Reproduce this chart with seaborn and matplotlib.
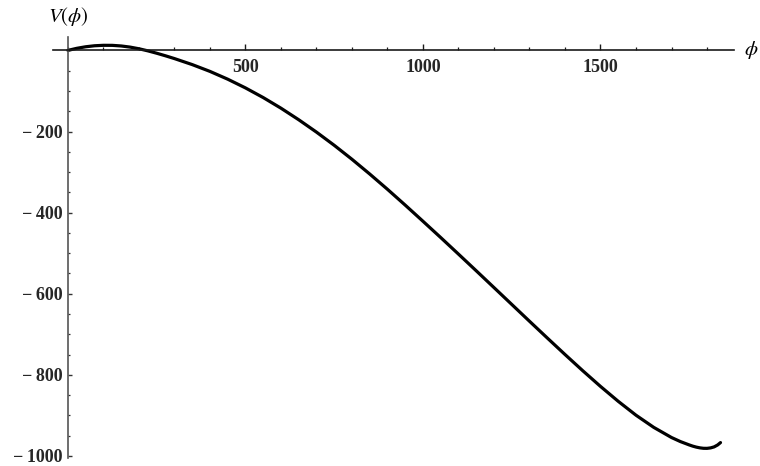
import matplotlib
matplotlib.use("Agg")
import matplotlib.pyplot as plt
from matplotlib.ticker import MultipleLocator, FixedLocator
import seaborn as sns
import pandas as pd

# Potential V(phi) sampled along the field range
phi = [0, 25, 50, 75, 100, 125, 150, 175, 200, 225, 250, 275, 300, 350, 400,
       450, 500, 550, 600, 650, 700, 750, 800, 850, 900, 950, 1000, 1050,
       1100, 1150, 1200, 1250, 1300, 1350, 1400, 1450, 1500, 1550, 1600, 1650,
       1700, 1725, 1750, 1760, 1770, 1780, 1790, 1800, 1810, 1820, 1830, 1838]
V = [0, 5.1, 8.9, 11.4, 12.5, 12.4, 10.9, 8.1, 4.0, -1.1, -7.0, -13.4, -20.2,
     -35.0, -51.8, -71.0, -92.5, -116.3, -142.5, -171.0, -201.5, -234.0,
     -268.5, -304.8, -342.5, -381.5, -421.3, -461.5, -502.3, -543.4, -584.8,
     -626.3, -667.8, -709.0, -749.8, -789.8, -828.5, -865.3, -899.5, -929.5,
     -954.5, -964.5, -972.8, -975.8, -978.2, -980.0, -981.1, -981.2, -980.1,
     -977.6, -972.8, -967.0]

x_major = [500, 1000, 1500]
y_major = [-1000, -800, -600, -400, -200]

df = pd.DataFrame({"phi": phi, "V": V})

sns.set_style("white")
plt.rcParams["font.family"] = ["Liberation Serif", "DejaVu Serif"]
plt.rcParams["mathtext.fontset"] = "stix"

fig = plt.figure(figsize=(7.6, 4.66), dpi=100)
ax = fig.add_axes([53 / 760, 8 / 466, (734 - 53) / 760, (458 - 37) / 466])

sns.lineplot(data=df, x="phi", y="V", ax=ax, color="black", linewidth=2.3,
             sort=False, estimator=None, solid_joinstyle="round",
             solid_capstyle="round")

ax.set_xlim(-42, 1876)
ax.set_ylim(-1005, 33)

# Axes crossing at the origin
ax.spines["left"].set_position(("data", 0))
ax.spines["bottom"].set_position(("data", 0))
ax.spines["top"].set_visible(False)
ax.spines["right"].set_visible(False)
ax.spines["bottom"].set_color("#1a1a1a")
ax.spines["left"].set_color("#555555")
ax.spines["bottom"].set_linewidth(1.2)
ax.spines["left"].set_linewidth(1.2)

ax.xaxis.set_major_locator(FixedLocator(x_major))
ax.xaxis.set_minor_locator(MultipleLocator(100))
ax.yaxis.set_major_locator(FixedLocator(y_major))
ax.yaxis.set_minor_locator(MultipleLocator(50))

ax.tick_params(axis="x", which="both", bottom=True)
ax.tick_params(axis="y", which="both", left=True)
ax.tick_params(axis="x", which="major", direction="in", length=4.2, width=1.0,
               color="#1a1a1a", pad=6)
ax.tick_params(axis="x", which="minor", direction="in", length=2.4, width=0.9,
               color="#1a1a1a")
ax.tick_params(axis="y", which="major", direction="in", length=3.0, width=1.0,
               color="#333333", pad=4)
ax.tick_params(axis="y", which="minor", direction="in", length=1.6, width=0.9,
               color="#333333")

ax.set_xticklabels([str(v) for v in x_major])
ax.set_yticklabels(["\u2212\u2009" + str(-v) for v in y_major])
for lab in ax.get_xticklabels() + ax.get_yticklabels():
    lab.set_fontsize(13)
    lab.set_fontweight("bold")

ax.set_xlabel("")
ax.set_ylabel("")
ax.grid(False)

fig.text(68 / 760, 1 - 16 / 466, r"$V(\phi)$", fontsize=15, ha="center",
         va="center", color="black")
fig.text(751 / 760, 1 - 50 / 466, r"$\phi$", fontsize=15, ha="center",
         va="center", color="black")

fig.savefig("out.png", dpi=100, facecolor="white")
